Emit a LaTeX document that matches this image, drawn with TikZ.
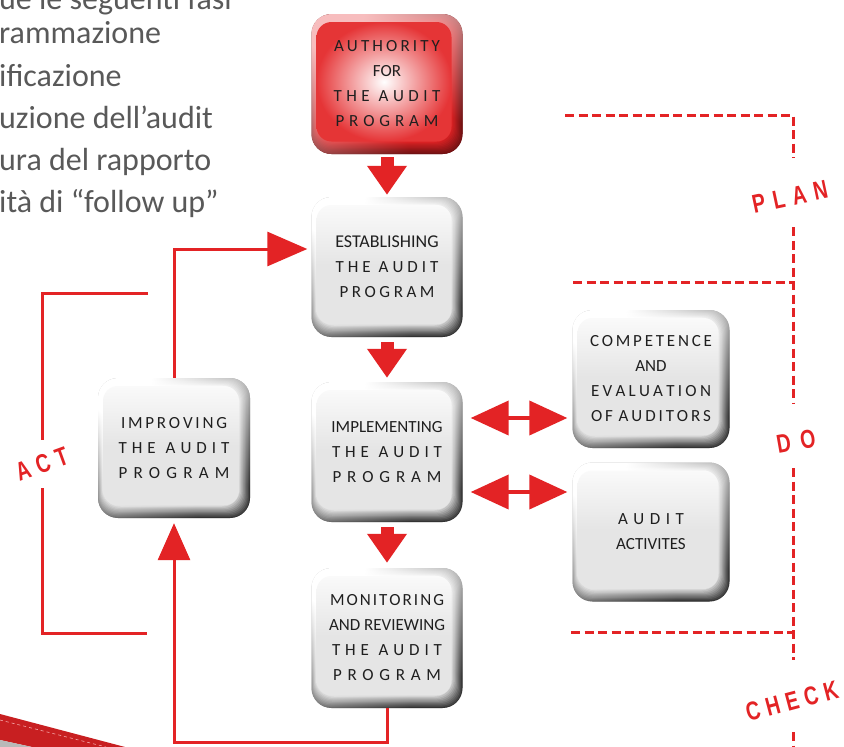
\documentclass[tikz,border=0pt]{standalone}
\usepackage{fontspec}
\usepackage{graphicx}
\setmainfont{Carlito}
\newfontfamily\handfont{Liberation Sans}
\usetikzlibrary{arrows.meta}
\definecolor{myred}{RGB}{227,35,37}
\definecolor{txtgray}{RGB}{89,89,89}
\definecolor{facegray}{RGB}{229,229,229}
\colorlet{graydark}{black!80}
\colorlet{graylight}{white}
\colorlet{reddark}{myred!50!black}
\colorlet{redlight}{myred!30!white}
\newcommand\sw[2]{\makebox[#1pt][s]{#2}}
\newcommand\gp{\hfill}
% layered bevel: #1 light, #2 dark, #3 face colour (plain colour names)
\newcommand\bevellayers[3]{%
  \foreach \i in {0,...,9}{%
    \pgfmathtruncatemacro\pc{100-10*\i}%
    \shade[top color=#1, bottom color=#2!\pc!#3, shading angle=30, rounded corners=18pt]
      ([shift={(0.5*\i,0.8*\i)}]path picture bounding box.north west) rectangle
      ([shift={(-1.1*\i,-1.25*\i)}]path picture bounding box.south east);}%
}
\begin{document}
\begin{tikzpicture}[x=1pt,y=-1pt,
  graybox/.style={rounded corners=20pt, minimum width=151pt, minimum height=140pt,
    inner sep=0pt, align=center, font=\fontsize{17}{25}\selectfont, text=black!88,
    fill=gray!60,
    path picture={\bevellayers{graylight}{graydark}{facegray}
      \shade[top color=gray!4, bottom color=facegray, middle color=facegray, rounded corners=15pt]
      ([shift={(5,8)}]path picture bounding box.north west) rectangle
      ([shift={(-11,-12.5)}]path picture bounding box.south east);}},
  redbox/.style={graybox, fill=reddark,
    path picture={\bevellayers{redlight}{reddark}{myred}
      \shade[inner color=white, outer color=myred!92!white, rounded corners=15pt]
      ([shift={(5,8)}]path picture bounding box.north west) rectangle
      ([shift={(-11,-12.5)}]path picture bounding box.south east);}},
  blockdown/.style={draw=myred, line width=13pt, -{Triangle[width=38pt,length=29pt]}},
  dbl/.style={draw=myred, line width=4pt,
    {Triangle[width=34pt,length=38pt]}-{Triangle[width=34pt,length=38pt]},
    shorten <=8pt, shorten >=5pt},
  redline/.style={draw=myred, line width=3pt},
  dashline/.style={draw=myred, line width=3pt, dash pattern=on 9pt off 4.5pt},
  hand/.style={text=myred, font=\handfont\bfseries\fontsize{26}{28}\selectfont, inner sep=0pt},
  bodytext/.style={anchor=base west, inner sep=0pt, text=txtgray, font=\fontsize{32}{38}\selectfont}
]
\useasboundingbox (0,0) rectangle (844,747);
\clip (0,0) rectangle (844,747);
\fill[white] (0,0) rectangle (844,747);

% background text (cut off on the left)
\node[bodytext] (t0) at (-1,9) {ue le seguenti fasi};
\node[bodytext] (t1) at (-1,43) {rammazione};
\node[bodytext] (t2) at (-1,86) {ificazione};
\node[bodytext] (t3) at (-1,128) {uzione dell’audit};
\node[bodytext] (t4) at (-1,170) {ura del rapporto};
\node[bodytext] (t5) at (-1,212) {ità di “follow up”};

% bottom-left ribbon
\fill[myred!88!black] (0,714) -- (125,747) -- (32,747) -- (0,740) -- cycle;
\fill[gray!55] (0,740) -- (32,747) -- (0,747) -- cycle;
\draw[myred!40!white, dashed, line width=0.6pt] (0,720) -- (106,747);

% boxes
\node[redbox] (auth) at (387,84) {\sw{106}{A\gp U\gp T\gp H\gp O\gp R\gp I\gp T\gp Y}\\ FOR\\
  \sw{107}{T\gp H\gp E\gp\gp A\gp U\gp D\gp I\gp T}\\ \sw{103}{P\gp R\gp O\gp G\gp R\gp A\gp M}};
\node[graybox] (est) at (387,267) {{\fontsize{18}{25}\selectfont ESTABLISHING}\\ \sw{103}{T\gp H\gp E\gp\gp A\gp U\gp D\gp I\gp T}\\
  \sw{95}{P\gp R\gp O\gp G\gp R\gp A\gp M}};
\node[graybox] (impl) at (387,452) {IMPLEMENTING\\ \sw{110}{T\gp H\gp E\gp\gp A\gp U\gp D\gp I\gp T}\\
  \sw{109}{P\gp R\gp O\gp G\gp R\gp A\gp M}};
\node[graybox] (mon) at (387,638) {\sw{114}{M\gp O\gp N\gp I\gp T\gp O\gp R\gp I\gp N\gp G}\\ AND REVIEWING\\
  \sw{110}{T\gp H\gp E\gp\gp A\gp U\gp D\gp I\gp T}\\ \sw{108}{P\gp R\gp O\gp G\gp R\gp A\gp M}};
\node[graybox, minimum width=157pt, minimum height=138pt] (comp) at (651,379)
  {\sw{122}{C\gp O\gp M\gp P\gp E\gp T\gp E\gp N\gp C\gp E}\\ AND\\
  \sw{120}{E\gp V\gp A\gp L\gp U\gp A\gp T\gp I\gp O\gp N}\\
  \sw{120}{O\gp F\gp\gp A\gp U\gp D\gp I\gp T\gp O\gp R\gp S}};
\node[graybox, minimum width=157pt, minimum height=139pt] (act2) at (651,532)
  {\sw{66}{A\gp U\gp D\gp I\gp T}\\ ACTIVITES};
\node[graybox, minimum width=152pt] (impr) at (174,448)
  {\sw{106}{I\gp M\gp P\gp R\gp O\gp V\gp I\gp N\gp G}\\
  \sw{111}{T\gp H\gp E\gp\gp A\gp U\gp D\gp I\gp T}\\ \sw{111}{P\gp R\gp O\gp G\gp R\gp A\gp M}};

% vertical block arrows
\draw[blockdown, shorten <=3pt, shorten >=2pt] (auth) -- (est);
\draw[blockdown, shorten <=5pt, shorten >=4pt] (est) -- (impl);
\draw[blockdown, shorten <=5pt, shorten >=5pt] (impl) -- (mon);

% double arrows
\coordinate (d1) at (0,418);
\coordinate (d2) at (0,492);
\draw[dbl] (impl.east |- d1) -- (comp.west |- d1);
\draw[dbl] (impl.east |- d2) -- (act2.west |- d2);

% feedback loops
\coordinate (e1) at (0,249);
\coordinate (b1) at (0,742);
\draw[redline, -{Triangle[width=34pt,length=40pt]}, shorten >=4pt]
  (impr.north) -- (impr.north |- e1) -- (est.west |- e1);
\draw[redline, -{Triangle[width=32pt,length=37pt]}, shorten >=5pt]
  (mon.south) -- (mon.south |- b1) -- (impr.south |- b1) -- (impr.south);

% ACT bracket
\node[hand, rotate=20] (actlbl) at (42,464) {\scalebox{0.75}[1]{\sw{72}{A\gp C\gp T}}};
\draw[redline] (148,293) -- (42,293) -- (42,440);
\draw[redline] (42,488) -- (42,633) -- (147,633);

% PDCA dashed brackets
\node[hand, rotate=12] (planlbl) at (790,197) {\scalebox{0.75}[1]{\sw{102}{P\gp L\gp A\gp N}}};
\node[hand, rotate=10] (dolbl) at (796,441) {\scalebox{0.75}[1]{\sw{52}{D\gp O}}};
\node[hand, rotate=15] (checklbl) at (792,701) {\scalebox{0.75}[1]{\sw{126}{C\gp H\gp E\gp C\gp K}}};
\draw[dashline] (565,115) -- (793,115) -- (793,158);
\draw[dashline] (793,227) -- (793,404);
\draw[dashline] (573,282) -- (793,282);
\draw[dashline] (793,468) -- (793,660);
\draw[dashline] (571,632) -- (793,632);
\draw[dashline] (793,732) -- (793,750);
\end{tikzpicture}
\end{document}
